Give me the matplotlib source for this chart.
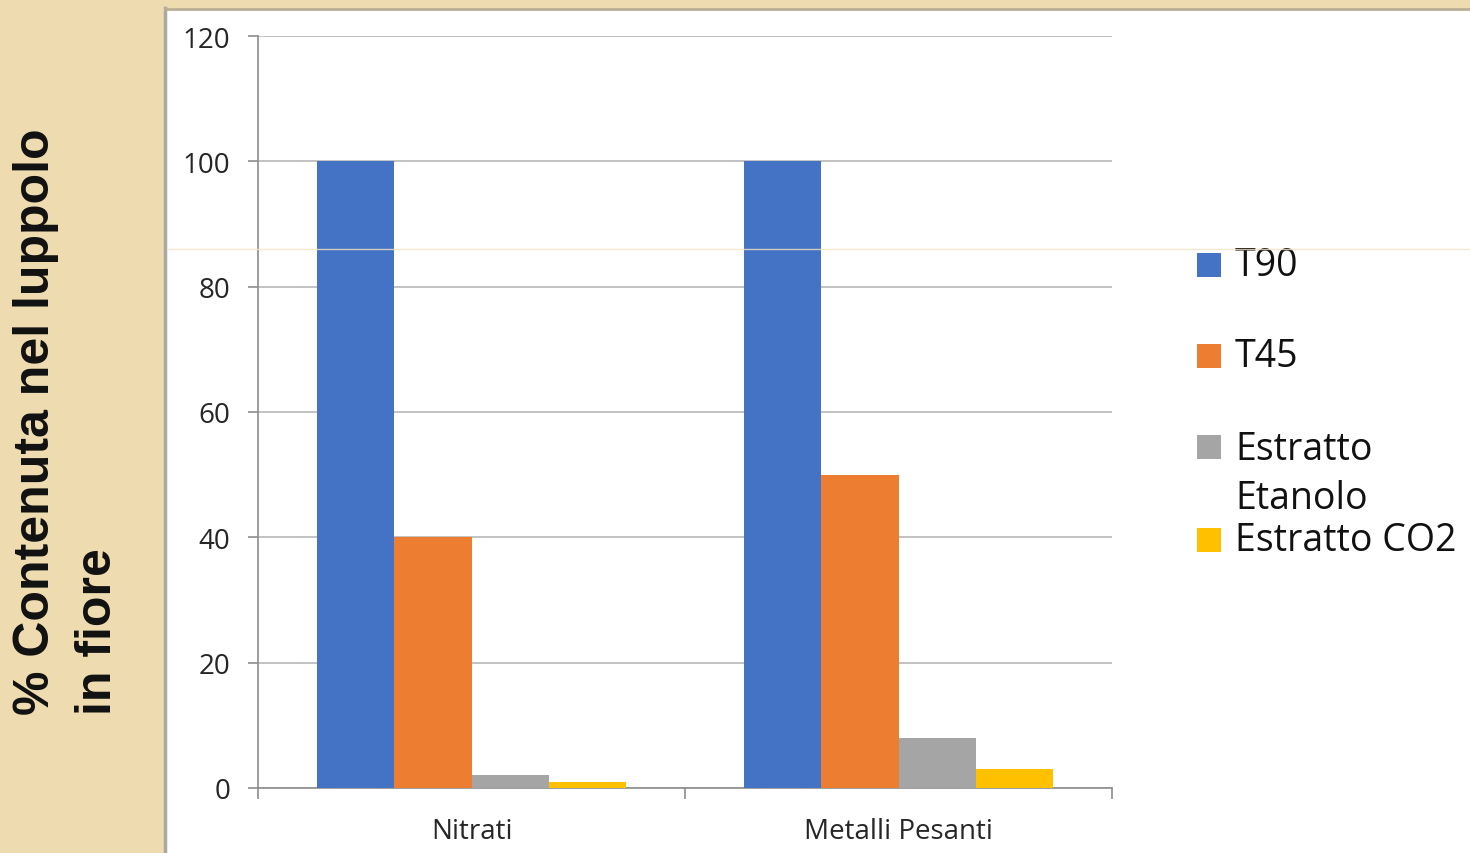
import matplotlib.pyplot as plt
import numpy as np
from matplotlib.patches import Rectangle
from matplotlib.lines import Line2D

# Data
categories = ['Nitrati', 'Metalli Pesanti']
series_names = ['T90', 'T45', 'Estratto\nEtanolo', 'Estratto CO2']
t90 = [100, 100]
t45 = [40, 50]
estratto_etanolo = [2, 8]
estratto_co2 = [1, 3]
y_ticks = [0, 20, 40, 60, 80, 100, 120]

values = [t90, t45, estratto_etanolo, estratto_co2]
colors = ['#4472C4', '#ED7D31', '#A5A5A5', '#FFC000']
beige = '#EEDCB0'
W, H = 1470, 854

fig = plt.figure(figsize=(W / 100, H / 100), dpi=100)
fig.patch.set_facecolor('white')

def fx(px):
    return px / W

def fy(py):
    return 1 - py / H

# slide background: beige side panel and top strip
fig.add_artist(Rectangle((0, 0), fx(165), 1, transform=fig.transFigure,
                         facecolor=beige, edgecolor='none', zorder=0))
fig.add_artist(Rectangle((0, fy(9)), 1, 9 / H, transform=fig.transFigure,
                         facecolor=beige, edgecolor='none', zorder=0))
fig.add_artist(Line2D([fx(165), fx(165)], [0, fy(9)], transform=fig.transFigure,
                      color='#a8a8a8', lw=2.5, zorder=1))
fig.add_artist(Line2D([fx(165), 1], [fy(10), fy(10)], transform=fig.transFigure,
                      color='#b9ae92', lw=2, zorder=1))
fig.add_artist(Line2D([fx(168), 1], [fy(250), fy(250)], transform=fig.transFigure,
                      color='#f3e3c2', lw=1, alpha=0.8, zorder=10))

ax = fig.add_axes([fx(258), 65 / H, 854 / W, 752 / H])
ax.set_facecolor('none')

x = np.arange(len(categories))
bar_width = 0.181
offsets = (np.arange(len(values)) - 1.5) * bar_width
for i, vals in enumerate(values):
    ax.bar(x + offsets[i], vals, width=bar_width, color=colors[i], zorder=3,
           label=series_names[i])

ax.set_xlim(-0.5, 1.5)
ax.set_ylim(0, 120)
ax.set_yticks(y_ticks)
ax.yaxis.grid(True, color='#bdbdbd', lw=1.3, zorder=0)
ax.set_axisbelow(True)

ax.set_xticks([-0.5, 0.5, 1.5])
ax.set_xticklabels([])
ax.set_xticks(x, minor=True)
ax.set_xticklabels(categories, minor=True, fontsize=20, family='Open Sans', color='#262626')
ax.tick_params(axis='x', which='minor', length=0, pad=21)
ax.tick_params(axis='x', which='major', length=8, color='#8c8c8c', width=1.2)
ax.tick_params(axis='y', length=7, color='#8c8c8c', width=1.2, labelsize=20,
               labelcolor='#262626', pad=13)
for lbl in ax.get_yticklabels():
    lbl.set_family('Open Sans')

for side in ['top', 'right']:
    ax.spines[side].set_visible(False)
for side in ['left', 'bottom']:
    ax.spines[side].set_color('#8c8c8c')
    ax.spines[side].set_linewidth(1.2)

# legend entries on the right, stacked like the spreadsheet legend
legend_y = [266, 357, 448, 541]
for name, color, yc in zip(series_names, colors, legend_y):
    fig.add_artist(Rectangle((fx(1197), fy(yc + 12)), 24 / W, 24 / H,
                             transform=fig.transFigure, facecolor=color,
                             edgecolor='none'))
    if '\n' in name:
        fig.text(fx(1235), fy(yc - 17), name, ha='left', va='top', fontsize=27,
                 family='Open Sans', color='#111111', linespacing=1.38)
    else:
        fig.text(fx(1235), fy(yc), name, ha='left', va='center', fontsize=27,
                 family='Open Sans', color='#111111')

# y axis title on the beige panel
fig.text(fx(36), fy(715), '% Contenuta nel luppolo', rotation=90,
         ha='center', va='bottom', fontsize=36, fontweight='bold',
         family='Liberation Sans', color='#111111')
fig.text(fx(98), fy(715), 'in fiore', rotation=90,
         ha='center', va='bottom', fontsize=36, fontweight='bold',
         family='Liberation Sans', color='#111111')

fig.savefig('out.png', dpi=100, facecolor=fig.get_facecolor())
